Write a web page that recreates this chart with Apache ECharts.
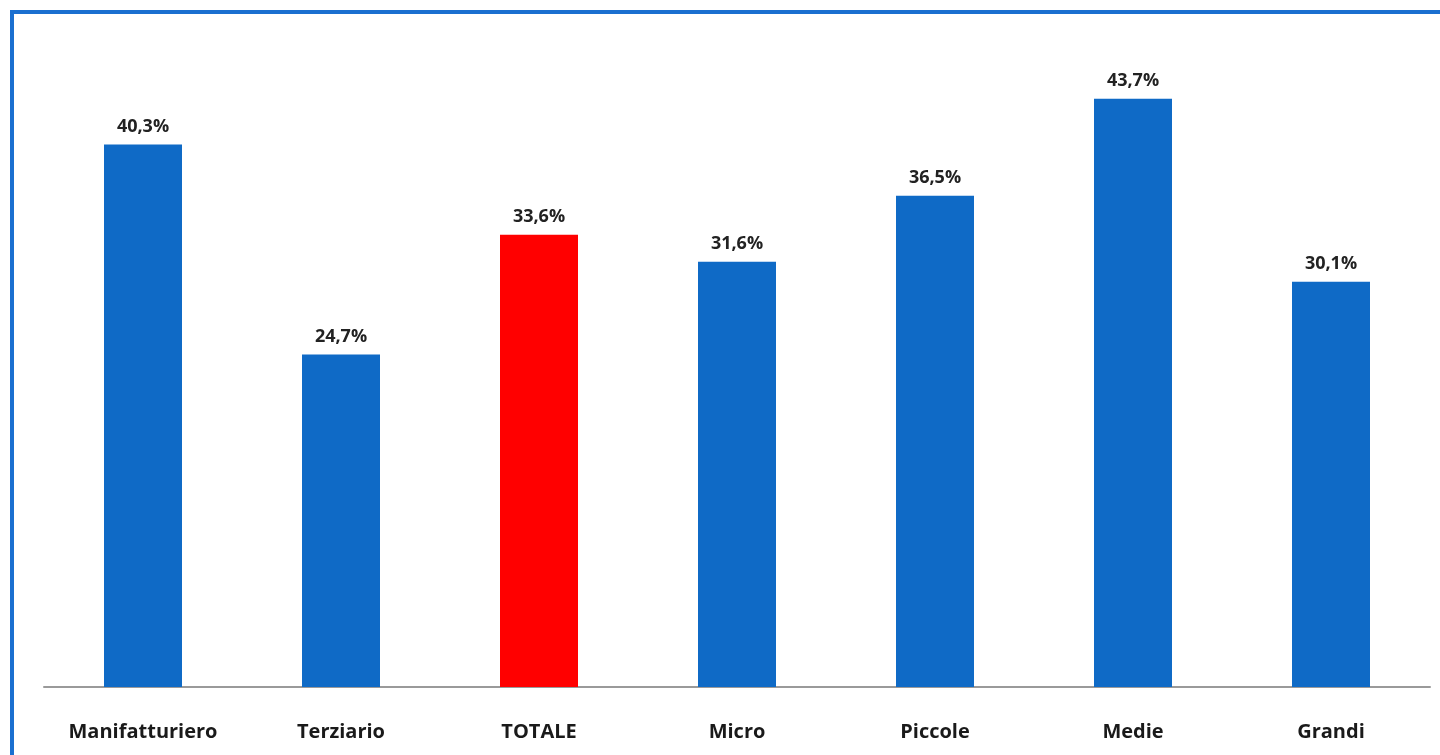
<!DOCTYPE html>
<html>
<head>
<meta charset="utf-8">
<script src="https://cdn.jsdelivr.net/npm/echarts@6/dist/echarts.min.js"></script>
<style>html,body{margin:0;padding:0;background:#fff;}#c{width:1440px;height:755px;}</style>
</head>
<body>
<div id="c"></div>
<script>
const categories = ['Manifatturiero','Terziario','TOTALE','Micro','Piccole','Medie','Grandi'];
const values = [40.3, 24.7, 33.6, 31.6, 36.5, 43.7, 30.1];
const highlight = 'TOTALE';

const chart = echarts.init(document.getElementById('c'));
chart.setOption({
  animation: false,
  backgroundColor: '#fff',
  grid: {left: 44, right: 10, top: 14, bottom: 68},
  graphic: [{
    type: 'rect', silent: true, z: 100,
    shape: {x: 12, y: 12, width: 1460, height: 800},
    style: {fill: 'none', stroke: '#1a6fd0', lineWidth: 4}
  }],
  xAxis: {
    type: 'category', data: categories,
    axisLine: {lineStyle: {color: '#9a9a9a', width: 2}},
    axisTick: {show: false},
    axisLabel: {margin: 35, color: '#1a1a1a', fontSize: 20, fontWeight: 'bold', fontFamily: 'Open Sans'}
  },
  yAxis: {
    type: 'value', min: 0, max: 50,
    show: false, splitLine: {show: false}
  },
  series: [{
    type: 'bar', barWidth: 78,
    data: values.map((v, i) => ({value: v, itemStyle: {color: categories[i] === highlight ? '#ff0000' : '#0f6ac6'}})),
    label: {
      show: true, position: 'top', distance: 9,
      color: '#222', fontSize: 18, fontWeight: 'bold', fontFamily: 'Open Sans',
      formatter: p => p.value.toFixed(1).replace('.', ',') + '%'
    }
  }]
});
</script>
</body>
</html>
